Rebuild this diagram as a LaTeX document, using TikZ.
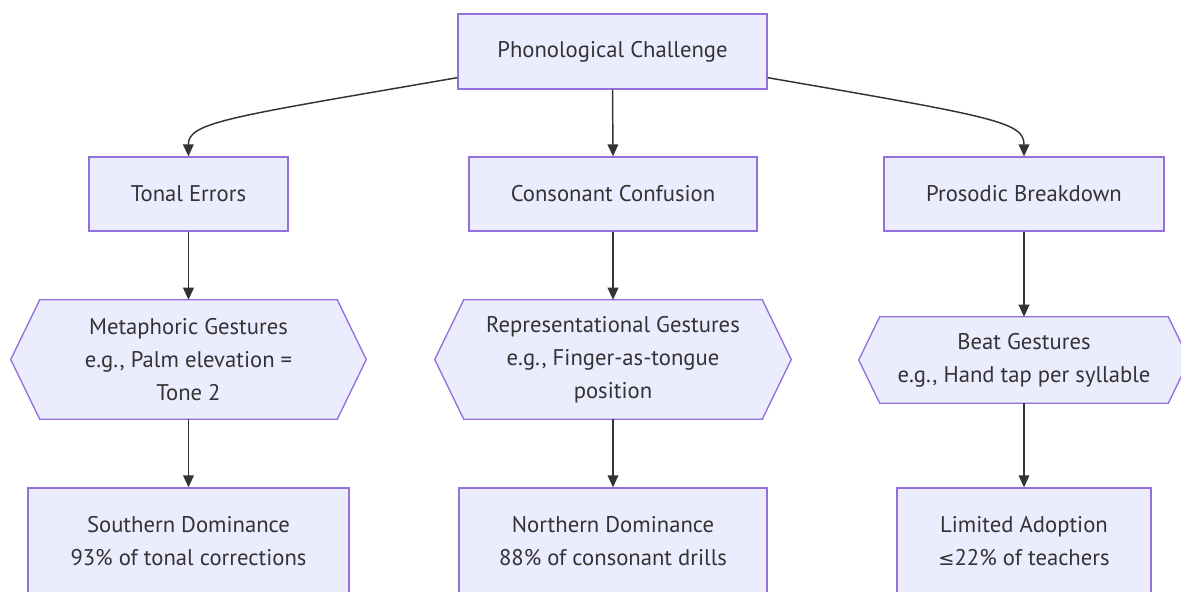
\documentclass[tikz,border=0pt]{standalone}
\usepackage{fontspec}
\setmainfont{PT Sans}
\newfontfamily\symfont{DejaVu Sans}
\usetikzlibrary{arrows.meta,backgrounds}
\definecolor{nodefill}{HTML}{ECECFF}
\definecolor{nodeline}{HTML}{9370DB}
\definecolor{ink}{HTML}{333333}
\begin{document}
\begin{tikzpicture}[x=0.75pt,y=-0.75pt,
  txt/.style={font=\fontsize{17}{24.75}\selectfont, text=ink, align=center, inner sep=0pt},
  box/.style={txt, draw=nodeline, fill=nodefill, line width=1pt, rectangle},
  hexcore/.style={txt, rectangle, draw=none},
  hexframe/.style={draw=nodeline, fill=nodefill, line width=1pt},
  link/.style={draw=ink, line width=1.1pt, -{Triangle[length=9pt,width=8pt]}}]
\useasboundingbox (0,0) rectangle (1181,592);

% top
\node[box, minimum width=309*0.75pt, minimum height=75*0.75pt] (top) at (612.5,51.5) {Phonological Challenge};

% second row
\node[box, minimum width=199*0.75pt, minimum height=74*0.75pt] (tonal) at (188.5,194) {Tonal Errors};
\node[box, minimum width=288*0.75pt, minimum height=74*0.75pt] (cons) at (613,194) {Consonant Confusion};
\node[box, minimum width=280*0.75pt, minimum height=74*0.75pt] (pros) at (1024,194) {Prosodic Breakdown};

% gesture hexagons: a text core, with the six-sided frame drawn behind it
\node[hexcore, minimum width=297*0.75pt, minimum height=119*0.75pt] (meta) at (188.5,359.5) {Metaphoric Gestures\\e.g., Palm elevation =\\Tone 2};
\node[hexcore, minimum width=298*0.75pt, minimum height=119*0.75pt] (repr) at (613,359.5) {Representational Gestures\\e.g., Finger-as-tongue\\position};
\node[hexcore, minimum width=288*0.75pt, minimum height=86*0.75pt] (beat) at (1024,360) {Beat Gestures\\e.g., Hand tap per syllable};
\begin{scope}[on background layer]
  \foreach \h/\d in {meta/29, repr/29, beat/21}{
    \path[hexframe] (\h.north west) -- (\h.north east) -- ([xshift=\d*0.75pt]\h.east)
      -- (\h.south east) -- (\h.south west) -- ([xshift=-\d*0.75pt]\h.west) -- cycle;
  }
\end{scope}

% bottom row
\node[box, minimum width=321*0.75pt, minimum height=106*0.75pt] (south) at (188.5,541) {Southern Dominance\\93\% of tonal corrections};
\node[box, minimum width=308*0.75pt, minimum height=106*0.75pt] (north) at (613,541) {Northern Dominance\\88\% of consonant drills};
\node[box, minimum width=254*0.75pt, minimum height=106*0.75pt] (lim) at (1024,541) {Limited Adoption\\{\symfont\fontsize{14.5}{24.75}\selectfont ≤}22\% of teachers};

% connectors
\draw[link] ([yshift=12*0.75pt]top.south west) .. controls (230,117) and (188,122) .. (tonal.north);
\draw[link] (top.south) -- (cons.north);
\draw[link] ([yshift=12*0.75pt]top.south east) .. controls (995,117) and (1024,122) .. (pros.north);
\draw[link] (tonal.south) -- (meta.north);
\draw[link] (cons.south) -- (repr.north);
\draw[link] (pros.south) -- (beat.north);
\draw[link] (meta.south) -- (south.north);
\draw[link] (repr.south) -- (north.north);
\draw[link] (beat.south) -- (lim.north);
\end{tikzpicture}
\end{document}
